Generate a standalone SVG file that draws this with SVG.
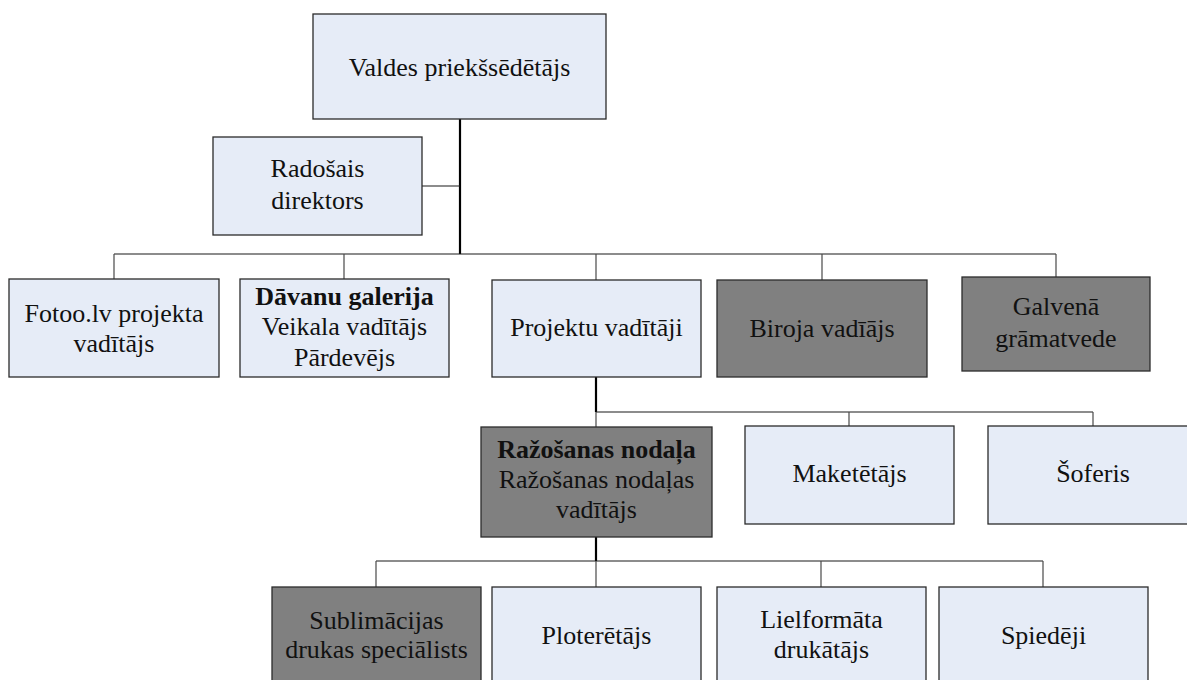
<svg xmlns="http://www.w3.org/2000/svg" width="1187" height="680" viewBox="0 0 1187 680">
  <style>
    .box { fill: #e6ecf7; stroke: #2b2b2b; stroke-width: 1.3; }
    .dark { fill: #808080; stroke: #2b2b2b; stroke-width: 1.3; }
    .lbl { font-family: "Liberation Serif", "Times New Roman", serif; font-size: 26px; fill: #111; text-anchor: middle; }
    .b { font-weight: bold; }
    .wire { fill: none; stroke: #1a1a1a; stroke-width: 1.2; }
    .drop { fill: none; stroke: #4a4a4a; stroke-width: 1.2; }
    .trunk { fill: none; stroke: #000; stroke-width: 2.2; }
  </style>
  <rect width="1187" height="680" fill="#ffffff"/>

  <g id="connectors">
    <!-- trunk from the chair down to the first bus -->
    <path class="trunk" d="M460 119 V254"/>
    <path class="wire" d="M422 186 H460"/>
    <!-- level 1 bus -->
    <path class="wire" d="M114 254 H1056"/>
    <path class="drop" d="M114 254 V279 M344 254 V279 M596 254 V280 M822 254 V280 M1056 254 V277"/>
    <!-- project managers branch -->
    <path class="trunk" d="M596 377 V412"/>
    <path class="wire" d="M596 412 H1093"/>
    <path class="drop" d="M596 412 V427 M849 412 V426 M1093 412 V426"/>
    <!-- production department branch -->
    <path class="trunk" d="M596 537 V561"/>
    <path class="wire" d="M376 561 H1043"/>
    <path class="drop" d="M376 561 V587 M596 561 V587 M821 561 V587 M1043 561 V587"/>
  </g>

  <g id="valdes">
    <rect class="box" x="313" y="14" width="293" height="105"/>
    <text class="lbl" x="459.5" y="76">Valdes priekšsēdētājs</text>
  </g>

  <g id="radosais">
    <rect class="box" x="213" y="137" width="209" height="98"/>
    <text class="lbl" x="317.5" y="177">Radošais</text>
    <text class="lbl" x="317.5" y="209">direktors</text>
  </g>

  <g id="fotoo">
    <rect class="box" x="9" y="279" width="210" height="98"/>
    <text class="lbl" x="114" y="322">Fotoo.lv projekta</text>
    <text class="lbl" x="114" y="352">vadītājs</text>
  </g>

  <g id="davanu">
    <rect class="box" x="240" y="279" width="209" height="98"/>
    <text class="lbl b" x="344.5" y="305">Dāvanu galerija</text>
    <text class="lbl" x="344.5" y="335">Veikala vadītājs</text>
    <text class="lbl" x="344.5" y="366">Pārdevējs</text>
  </g>

  <g id="projektu">
    <rect class="box" x="492" y="280" width="209" height="97"/>
    <text class="lbl" x="596.5" y="336">Projektu vadītāji</text>
  </g>

  <g id="biroja">
    <rect class="dark" x="717" y="280" width="210" height="97"/>
    <text class="lbl" x="822" y="337">Biroja vadīājs</text>
  </g>

  <g id="gramatvede">
    <rect class="dark" x="962" y="277" width="188" height="94"/>
    <text class="lbl" x="1056" y="315">Galvenā</text>
    <text class="lbl" x="1056" y="347">grāmatvede</text>
  </g>

  <g id="razosana">
    <rect class="dark" x="481" y="427" width="231" height="110"/>
    <text class="lbl b" x="596.5" y="458">Ražošanas nodaļa</text>
    <text class="lbl" x="596.5" y="488">Ražošanas nodaļas</text>
    <text class="lbl" x="596.5" y="518">vadītājs</text>
  </g>

  <g id="maketetajs">
    <rect class="box" x="745" y="426" width="209" height="98"/>
    <text class="lbl" x="849.5" y="482">Maketētājs</text>
  </g>

  <g id="soferis">
    <rect class="box" x="988" y="426" width="212" height="98"/>
    <text class="lbl" x="1093" y="482">Šoferis</text>
  </g>

  <g id="sublimacija">
    <rect class="dark" x="272" y="587" width="209" height="100"/>
    <text class="lbl" x="376.5" y="629">Sublimācijas</text>
    <text class="lbl" x="376.5" y="658">drukas speciālists</text>
  </g>

  <g id="ploteretajs">
    <rect class="box" x="492" y="587" width="209" height="100"/>
    <text class="lbl" x="596.5" y="644">Ploterētājs</text>
  </g>

  <g id="lielformata">
    <rect class="box" x="717" y="587" width="209" height="100"/>
    <text class="lbl" x="821.5" y="628">Lielformāta</text>
    <text class="lbl" x="821.5" y="658">drukātājs</text>
  </g>

  <g id="spiedeji">
    <rect class="box" x="939" y="587" width="209" height="100"/>
    <text class="lbl" x="1043.5" y="644">Spiedēji</text>
  </g>
</svg>
